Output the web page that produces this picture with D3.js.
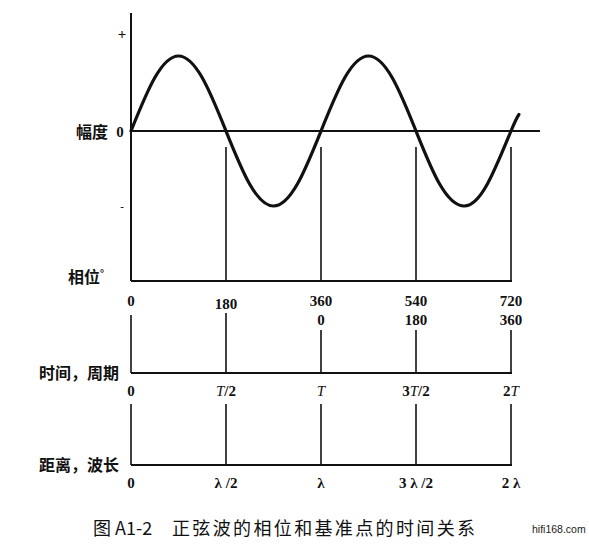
<!DOCTYPE html>
<html><head><meta charset="utf-8">
<script src="https://cdn.jsdelivr.net/npm/d3@7/dist/d3.min.js"></script>
<style>
html,body{margin:0;padding:0;background:#fff;}
svg{display:block;}
.num{font-family:"Liberation Serif","DejaVu Serif",serif;font-weight:bold;font-size:15px;fill:#111;}
.cjk{font-family:"Noto Sans CJK SC",sans-serif;font-weight:bold;font-size:16px;fill:#111;}
</style>
</head><body>
<script>
// ---- data ----
const phaseDeg   = [0,45,90,135,180,225,270,315,360,405,450,495,540,585,630,675,720,735];
const amplitude  = [0,0.71,1,0.71,0,-0.71,-1,-0.71,0,0.71,1,0.71,0,-0.71,-1,-0.71,0,0.22];
const phaseTicks = [0,180,360,540,720];
const phaseLabels1 = ["0","180","360","540","720"];
const phaseLabels2 = ["","","0","180","360"];
const timeLabels = [["0"],["T","/2"],["T"],["3","T","/2"],["2","T"]];
const distLabels = ["0","λ /2","λ","3 λ /2","2 λ"];
const axisNames = {amp:"幅度", phase:"相位", time:"时间，周期", dist:"距离，波长"};
const caption = ["图 A1-2","正弦波的相位和基准点的时间关系"];
const watermark = "hifi168.com";

// ---- drawing ----
const W=589,H=555;
const svg=d3.select("body").append("svg").attr("width",W).attr("height",H);
const x=d3.scaleLinear().domain([0,720]).range([131,511]);
const y=d3.scaleLinear().domain([-1,1]).range([206,56]);
const y0=y(0), phaseY=281, timeY=373, distY=465;
const ink="#111";

// amplitude axis
svg.append("line").attr("x1",x(0)).attr("x2",x(0)).attr("y1",13).attr("y2",phaseY)
  .attr("stroke",ink).attr("stroke-width",2);
// zero line
svg.append("line").attr("x1",x(0)).attr("x2",540).attr("y1",y0).attr("y2",y0)
  .attr("stroke",ink).attr("stroke-width",1.8);
// sine
const line=d3.line().x(d=>x(d[0])).y(d=>y(d[1])).curve(d3.curveNatural);
svg.append("path").datum(phaseDeg.map((p,i)=>[p,amplitude[i]]))
  .attr("d",line).attr("fill","none").attr("stroke",ink).attr("stroke-width",3.2)
  .attr("stroke-linecap","round");
// +/- marks
svg.append("text").attr("class","num").attr("x",122).attr("y",y(1.3)+5).attr("text-anchor","middle").text("+");
svg.append("text").attr("class","num").attr("x",122).attr("y",y(-1)+4).attr("text-anchor","middle").style("font-size","11px").text("-");
svg.append("text").attr("class","num").attr("x",120).attr("y",y0+6).attr("text-anchor","middle").text("0");
svg.append("text").attr("class","cjk").attr("x",108).attr("y",y0+7).attr("text-anchor","end").text(axisNames.amp);

// phase axis
svg.append("line").attr("x1",x(0)).attr("x2",x(720)+1).attr("y1",phaseY).attr("y2",phaseY)
  .attr("stroke",ink).attr("stroke-width",2);
svg.selectAll(".vl1").data(phaseTicks.slice(1)).enter().append("line")
  .attr("x1",d=>x(d)).attr("x2",d=>x(d)).attr("y1",y0+16).attr("y2",phaseY)
  .attr("stroke",ink).attr("stroke-width",1.6);
const pn=svg.append("text").attr("class","cjk").attr("x",68).attr("y",phaseY+2);
pn.text(axisNames.phase);
pn.append("tspan").attr("dy",-6).style("font-size","10px").text("°");

svg.selectAll(".pl1").data(phaseTicks).enter().append("text").attr("class","num")
  .attr("x",d=>x(d)).attr("y",(d,i)=>i===1?309:306).attr("text-anchor","middle")
  .text((d,i)=>phaseLabels1[i]);
svg.selectAll(".pl2").data(phaseTicks).enter().append("text").attr("class","num")
  .attr("x",d=>x(d)).attr("y",325).attr("text-anchor","middle")
  .text((d,i)=>phaseLabels2[i]);
// connecting lines phase -> time
svg.selectAll(".vl2").data(phaseTicks).enter().append("line")
  .attr("x1",d=>x(d)).attr("x2",d=>x(d))
  .attr("y1",(d,i)=>i===0?315:(i===1?313:330)).attr("y2",timeY)
  .attr("stroke",ink).attr("stroke-width",1.6);

// time axis
svg.append("line").attr("x1",x(0)).attr("x2",x(720)+1).attr("y1",timeY).attr("y2",timeY)
  .attr("stroke",ink).attr("stroke-width",2);
svg.append("text").attr("class","cjk").attr("x",119).attr("y",timeY+6).attr("text-anchor","end").text(axisNames.time);
const tl=svg.selectAll(".tl").data(phaseTicks).enter().append("text").attr("class","num")
  .attr("x",d=>x(d)).attr("y",timeY+23).attr("text-anchor","middle");
tl.each(function(d,i){
  const t=d3.select(this);
  timeLabels[i].forEach(s=>{
    t.append("tspan").text(s).style("font-style",s==="T"?"italic":"normal")
     .style("font-weight",s==="T"?"normal":"bold");
  });
});
svg.selectAll(".vl3").data(phaseTicks).enter().append("line")
  .attr("x1",d=>x(d)).attr("x2",d=>x(d)).attr("y1",timeY+31).attr("y2",distY)
  .attr("stroke",ink).attr("stroke-width",1.6);

// distance axis
svg.append("line").attr("x1",x(0)).attr("x2",x(720)+1).attr("y1",distY).attr("y2",distY)
  .attr("stroke",ink).attr("stroke-width",2);
svg.append("text").attr("class","cjk").attr("x",119).attr("y",distY+6).attr("text-anchor","end").text(axisNames.dist);
svg.selectAll(".dl").data(phaseTicks).enter().append("text").attr("class","num")
  .attr("x",d=>x(d)).attr("y",distY+23).attr("text-anchor","middle")
  .text((d,i)=>distLabels[i]);

// caption
svg.append("text").attr("x",93).attr("y",535)
  .style("font-family","'Noto Sans CJK SC',sans-serif").style("font-size","18px").style("fill",ink)
  .text(caption[0]);
svg.append("text").attr("x",172).attr("y",535)
  .style("font-family","'Noto Sans CJK SC',sans-serif").style("font-size","18px").style("fill",ink)
  .attr("textLength",303).text(caption[1]);
svg.append("text").attr("x",532).attr("y",533)
  .style("font-family","'Liberation Sans',sans-serif").style("font-size","10.5px").style("fill","#222")
  .text(watermark);
</script>
</body></html>
